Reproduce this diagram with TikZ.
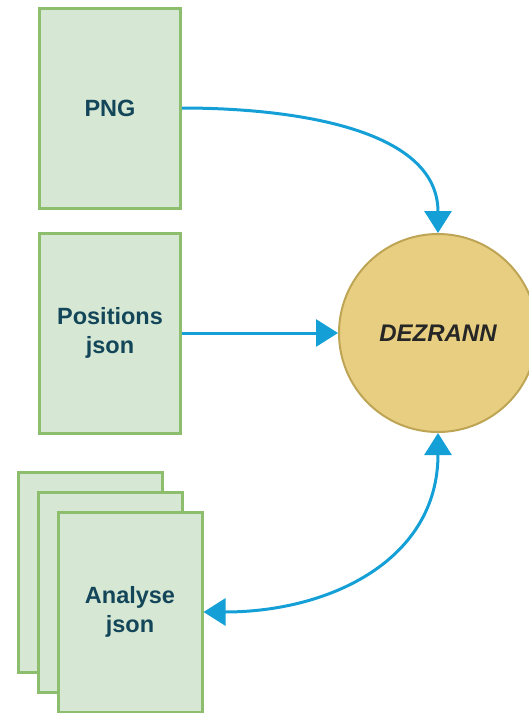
\documentclass[tikz,border=0pt]{standalone}
\usepackage{fontspec}
\setmainfont{Liberation Sans}
\usetikzlibrary{shapes}
\usetikzlibrary{calc}
\usetikzlibrary{positioning}
\usetikzlibrary{arrows.meta}
\definecolor{docfill}{RGB}{214,232,212}
\definecolor{docline}{RGB}{140,190,110}
\definecolor{doctext}{RGB}{20,70,90}
\definecolor{appfill}{RGB}{232,206,128}
\definecolor{appline}{RGB}{190,165,85}
\definecolor{flow}{RGB}{20,160,215}

\begin{document}
\begin{tikzpicture}[x = 1pt, y = 1pt, line width = 3pt,
    doc/.style = {rectangle, draw = docline, fill = docfill, line width = 3pt,
        minimum width = 141pt, minimum height = 200pt, align = center,
        text = doctext, font = \fontsize{23.5}{29}\selectfont\bfseries},
    app/.style = {circle, draw = appline, fill = appfill, line width = 2pt,
        minimum size = 198pt, text = black!85,
        font = \fontsize{24}{28}\selectfont\bfseries\itshape},
    flowline/.style = {draw = flow, line width = 3pt, -{Triangle[length = 22pt, width = 27pt]}}]
    \useasboundingbox (0,0) rectangle (529,-713);

    %\draw[help lines, opacity = 0.1] (0,-713) grid[step = 50] (529,0);

    \node (png) at (110,-108) [doc] {PNG};
    \node (positions) [doc, on grid, below = 225pt of png] {Positions\\json};

    \node (analyse3) at (90,-572) [doc, minimum width = 144pt] {};
    \node (analyse2) [doc, minimum width = 144pt, on grid, below right = 20pt and 20pt of analyse3] {};
    \node (analyse1) [doc, minimum width = 144pt, on grid, below right = 20pt and 20pt of analyse2] {Analyse\\json};

    \node (dezrann) at (438,-333) [app] {DEZRANN};

    \draw[flowline] (png.east) to[out = 0, in = 90, looseness = 0.95] (dezrann.north);
    \draw[flowline] (positions.east) -- (dezrann.west);
    \draw[flowline, {Triangle[length = 22pt, width = 27pt]}-{Triangle[length = 22pt, width = 27pt]}] (analyse1.east) to[out = 0, in = -90, looseness = 1.1] (dezrann.south);

\end{tikzpicture}
\end{document}
